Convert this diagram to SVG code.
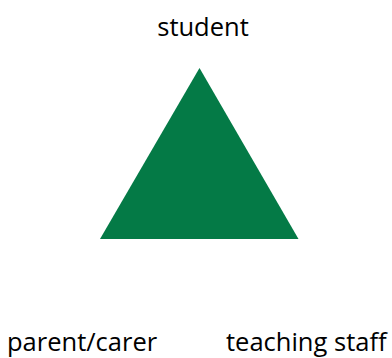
<svg xmlns="http://www.w3.org/2000/svg" width="392" height="358" viewBox="0 0 392 358">
  <style>
    .label { font-family: "Open Sans", "Liberation Sans", sans-serif; font-size: 25.5px; fill: #000000; }
    .tri { fill: #047A46; }
  </style>
  <rect width="392" height="358" fill="#ffffff"/>
  <g id="triangle">
    <polygon class="tri" points="199.5,68 100,239 298.5,239"/>
  </g>
  <g id="student">
    <text class="label" x="203" y="36" text-anchor="middle">student</text>
  </g>
  <g id="parent-carer">
    <text class="label" x="7" y="351">parent/carer</text>
  </g>
  <g id="teaching-staff">
    <text class="label" x="226" y="351">teaching staff</text>
  </g>
  <g id="connectors"></g>
</svg>
